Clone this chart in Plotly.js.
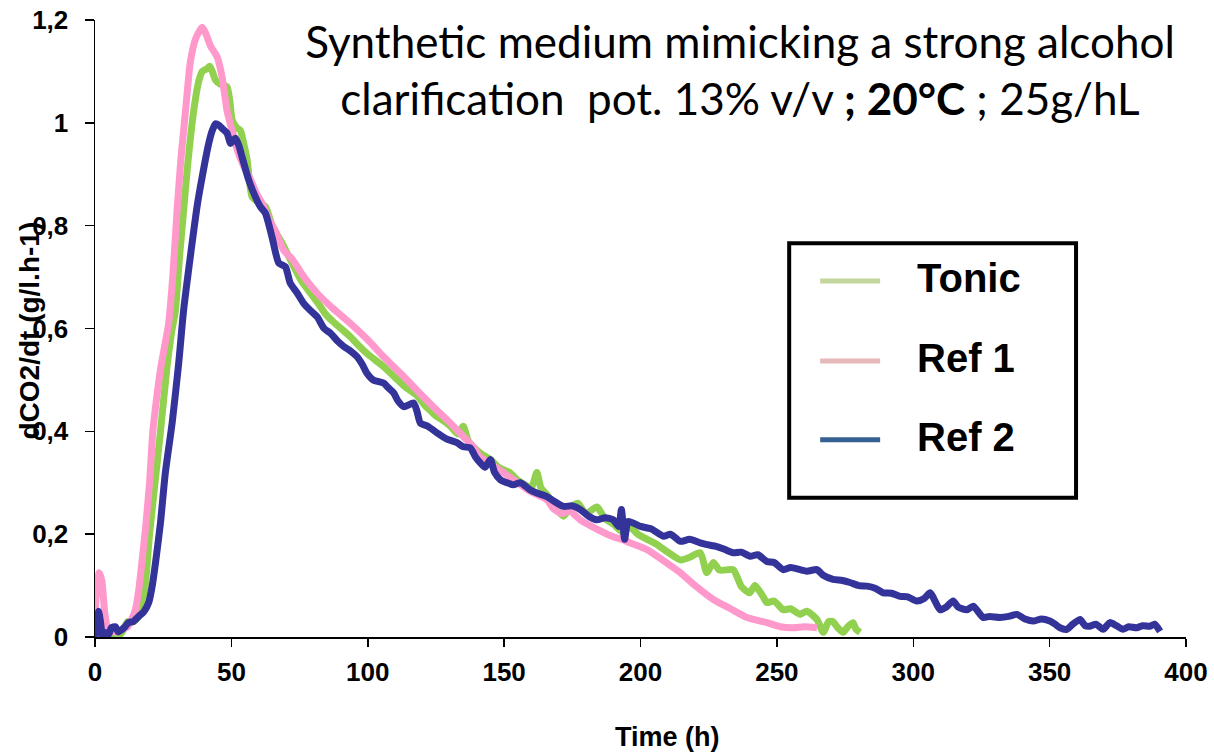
<!DOCTYPE html>
<html>
<head>
<meta charset="utf-8">
<script src="https://cdn.plot.ly/plotly-3.0.1.min.js"></script>
<style>
  html, body { margin: 0; padding: 0; background: #ffffff; }
  #chart { width: 1214px; height: 753px; }
</style>
</head>
<body>
<div id="chart"></div>
<script>
// ---------------- data ----------------
const seriesNames = ['Tonic', 'Ref 1', 'Ref 2'];

const tonicX = [2,4,6,8,10,12,14,16,18,20,22,24,26.5,28,29.5,31,32.5,34,36.2,38,39.3,41,42,43,44.2,46,48.4,49.5,50.3,52,53.3,54.5,55.8,57.6,60,62.5,65,68.6,72,76,81.4,85,88,93.6,97,100,105.8,110,114,118,121,123,125,128,130.3,133,135,137,141.2,145,148,152,155,158,160,162,163.5,166,169,171.7,174,177,180,184,187,190,193.7,196,199,202.4,206,210,214.6,218,221.9,224.3,226.7,229,234,237,240,242,245,246.3,249,252.3,255,258.5,261,264.7,267,269,270.6,272,274.3,276,277.9,279,280.5];
const tonicY = [0.01,0.0,0.005,0.0,0.01,0.03,0.03,0.04,0.08,0.2,0.3,0.4,0.53,0.59,0.636,0.74,0.83,0.92,1.024,1.08,1.10,1.105,1.11,1.10,1.083,1.075,1.07,1.04,1.005,0.99,0.985,0.96,0.927,0.856,0.845,0.837,0.80,0.766,0.73,0.69,0.652,0.625,0.61,0.584,0.565,0.55,0.526,0.505,0.485,0.47,0.45,0.44,0.43,0.42,0.41,0.395,0.41,0.38,0.358,0.345,0.33,0.32,0.305,0.295,0.29,0.32,0.29,0.275,0.25,0.235,0.25,0.26,0.24,0.253,0.23,0.22,0.203,0.215,0.20,0.19,0.18,0.165,0.15,0.155,0.164,0.125,0.145,0.13,0.131,0.098,0.086,0.10,0.078,0.067,0.07,0.053,0.055,0.044,0.05,0.034,0.009,0.03,0.03,0.02,0.009,0.02,0.028,0.015,0.009];

const ref1X = [0,0.8,1.5,2.5,3.5,4.5,6,8,10,12,13.5,14.8,16,17.5,18.5,20,21.2,22.5,24,25.5,27,28.5,30.1,31.5,33.2,35,37,39.3,40.5,42.3,44.8,46.6,48.4,50,51.5,53,55.2,57,59,61.3,64,66.1,69.2,72.3,76,81.4,87,93.6,100,105.8,112,118,124,130.3,135,138.7,141.2,147,153.4,159,165.7,168,171,174,177.9,184,190,193,196.2,202.4,208,214.6,220,226.7,233,239,246.3,251.2,256,260,264.7];
const ref1Y = [0.05,0.10,0.125,0.11,0.05,0.02,0.012,0.01,0.015,0.02,0.035,0.053,0.09,0.16,0.21,0.30,0.40,0.46,0.52,0.565,0.61,0.70,0.83,0.93,1.024,1.12,1.165,1.186,1.175,1.15,1.128,1.089,1.024,0.99,0.96,0.935,0.908,0.89,0.865,0.843,0.81,0.79,0.752,0.735,0.705,0.669,0.64,0.61,0.578,0.545,0.513,0.48,0.448,0.416,0.39,0.37,0.35,0.33,0.306,0.285,0.267,0.25,0.24,0.245,0.228,0.21,0.195,0.19,0.183,0.17,0.15,0.125,0.10,0.073,0.055,0.038,0.028,0.02,0.018,0.02,0.018];

const ref2X = [0,0.7,1.3,2,2.8,3.8,5,6,7.5,8.5,10,11,12.3,14,16,18,19.7,21,22.2,24,25.8,28.3,30.7,32.5,35.6,37.5,39.3,41.7,43,44.2,45.5,46.6,48.4,49.7,50.5,51.5,52.8,53.9,56.4,58.8,60.6,62.5,64.9,67.4,69.8,71.6,74,76.5,79,81.4,84,86.3,89,91.2,94,96.1,98,99.7,102,105.8,107.5,109.5,111,113.2,116.8,118,119.3,122,125.4,129,132.7,135,137.6,139.5,141.2,143,145,146.5,148.6,151,153.4,156,159.6,162,165.7,168,171.7,175,177.9,181,184,187,190,192,193,194.2,195.5,200,204,208.4,211,214.6,218,221.9,224,228,231,234,237,240.2,243,246.3,249,252.3,255,258.5,261,264.7,267,270.6,274,276.8,280,283,286,289,292,295.2,298,301.3,304,306.2,307.5,309.8,312,314.6,316.5,319.6,322,325.6,328,331.8,335,338,341,344,347,350.1,352,353.8,356.3,358.5,361.2,363,364.8,367,369.6,372.1,374.5,376.9,379,381.9,384,386.8,388.5,390.5];
const ref2Y = [0.0,0.03,0.05,0.03,0.0,0.009,0.005,0.018,0.02,0.01,0.015,0.02,0.028,0.03,0.04,0.05,0.067,0.10,0.145,0.222,0.32,0.417,0.533,0.636,0.766,0.84,0.895,0.96,0.985,0.998,0.995,0.989,0.98,0.96,0.965,0.97,0.955,0.934,0.888,0.856,0.837,0.824,0.778,0.727,0.72,0.688,0.67,0.649,0.635,0.623,0.60,0.591,0.575,0.565,0.555,0.545,0.53,0.513,0.50,0.494,0.485,0.475,0.46,0.448,0.455,0.44,0.416,0.41,0.397,0.385,0.378,0.37,0.368,0.35,0.339,0.33,0.345,0.32,0.306,0.30,0.296,0.30,0.286,0.28,0.273,0.265,0.254,0.255,0.248,0.235,0.228,0.232,0.228,0.215,0.248,0.19,0.225,0.215,0.21,0.196,0.20,0.186,0.19,0.183,0.18,0.176,0.17,0.164,0.165,0.157,0.16,0.147,0.145,0.131,0.135,0.131,0.128,0.131,0.12,0.112,0.11,0.106,0.10,0.099,0.095,0.086,0.085,0.079,0.078,0.07,0.075,0.086,0.075,0.053,0.058,0.07,0.058,0.053,0.06,0.038,0.04,0.038,0.04,0.044,0.035,0.031,0.035,0.031,0.025,0.018,0.015,0.025,0.034,0.022,0.021,0.025,0.015,0.028,0.022,0.015,0.02,0.018,0.022,0.021,0.025,0.011];

const xTickVals = [0,50,100,150,200,250,300,350,400];
const xTickText = ['0','50','100','150','200','250','300','350','400'];
const yTickVals = [0,0.2,0.4,0.6,0.8,1.0,1.2];
const yTickText = ['0','0,2','0,4','0,6','0,8','1','1,2'];
const xTitle = 'Time (h)';
const yTitle = 'dCO2/dt (g/l.h-1)';

// ---------------- styling ----------------
const lineColors   = ['#92d050', '#ff99cc', '#333399'];
const legendColors = ['#c3d69b', '#e6b9b8', '#376092'];

const W = 1214, H = 753;
const M = {l: 94.5, r: 28, t: 19.5, b: 115.5};
const plotW = W - M.l - M.r, plotH = H - M.t - M.b;
const px2x = p => (p - M.l) / plotW;
const px2y = p => (H - M.b - p) / plotH;

const boldFont = 'Liberation Sans, Arial, Helvetica, sans-serif';

const xs = [tonicX, ref1X, ref2X];
const ys = [tonicY, ref1Y, ref2Y];

const traces = seriesNames.map((name, i) => ({
  type: 'scatter',
  mode: 'lines',
  name: name,
  x: xs[i],
  y: ys[i],
  line: {color: lineColors[i], width: 7, shape: 'spline', smoothing: 0.6},
  showlegend: false,
  hoverinfo: 'x+y+name'
}));

// hand-drawn legend box (matching original colours & layout)
const shapes = [{
  type: 'rect', xref: 'paper', yref: 'paper',
  x0: px2x(789), x1: px2x(1076), y0: px2y(498), y1: px2y(243),
  line: {color: '#000000', width: 4}, fillcolor: 'rgba(255,255,255,0)'
}];
const annotations = [];
const legRows = [281, 361, 440];
seriesNames.forEach((name, i) => {
  shapes.push({
    type: 'line', xref: 'paper', yref: 'paper',
    x0: px2x(820), x1: px2x(880), y0: px2y(legRows[i]), y1: px2y(legRows[i]),
    line: {color: legendColors[i], width: 5}
  });
  annotations.push({
    xref: 'paper', yref: 'paper', x: px2x(915), y: px2y(legRows[i] - 3),
    xanchor: 'left', yanchor: 'middle', showarrow: false,
    text: name,
    font: {family: boldFont, size: 40, color: '#000000', weight: 'bold'}
  });
});

// axis titles (placed as in the original: x title right of centre, y title overlapping tick labels)
annotations.push({
  xref: 'paper', yref: 'paper', x: px2x(667), y: px2y(738),
  xanchor: 'center', yanchor: 'middle', showarrow: false,
  text: xTitle,
  font: {family: boldFont, size: 27, color: '#000000', weight: 'bold'}
});
annotations.push({
  xref: 'paper', yref: 'paper', x: px2x(29), y: px2y(331),
  xanchor: 'center', yanchor: 'middle', showarrow: false, textangle: -90,
  text: yTitle,
  font: {family: boldFont, size: 28, color: '#000000', weight: 'bold'}
});

const layout = {
  width: W, height: H,
  margin: M,
  paper_bgcolor: '#ffffff',
  plot_bgcolor: '#ffffff',
  showlegend: false,
  title: {
    text: 'Synthetic medium mimicking a strong alcohol<br>clarification&nbsp; pot. 13% v/v <b>; 20°C</b> ; 25g/hL',
    font: {family: 'Lato, Open Sans, sans-serif', size: 44, color: '#000000'},
    xref: 'container', yref: 'container',
    x: 740 / W, xanchor: 'center',
    y: 1 - 58 / H, yanchor: 'top'
  },
  xaxis: {
    range: [0, 400],
    tickvals: xTickVals, ticktext: xTickText,
    ticks: 'outside', ticklen: 8, tickwidth: 1.5, tickcolor: '#000000',
    showline: true, linecolor: '#000000', linewidth: 1.5,
    showgrid: false, zeroline: false,
    ticklabelstandoff: 3,
    tickfont: {family: boldFont, size: 26, color: '#000000', weight: 'bold'}
  },
  yaxis: {
    range: [0, 1.2],
    tickvals: yTickVals, ticktext: yTickText,
    ticks: 'outside', ticklen: 9, tickwidth: 1.5, tickcolor: '#000000',
    showline: true, linecolor: '#000000', linewidth: 1.5,
    showgrid: false, zeroline: false,
    ticklabelstandoff: 11,
    tickfont: {family: boldFont, size: 26, color: '#000000', weight: 'bold'}
  },
  shapes: shapes,
  annotations: annotations
};

Plotly.newPlot('chart', traces, layout, {displayModeBar: false, staticPlot: true});
</script>
</body>
</html>
